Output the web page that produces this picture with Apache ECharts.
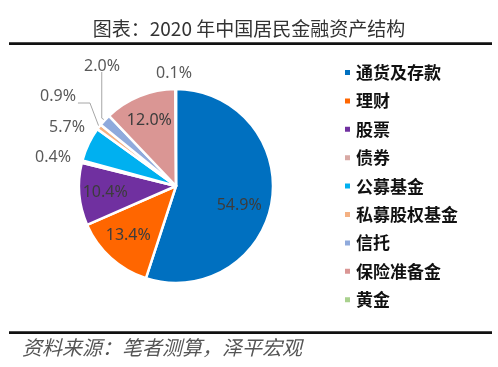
<!DOCTYPE html>
<html><head><meta charset="utf-8">
<script src="https://cdn.jsdelivr.net/npm/echarts@6/dist/echarts.min.js"></script>
<style>html,body{margin:0;padding:0;background:#fff}#c{width:498px;height:367px}</style>
</head><body><div id="c"></div>
<script>
const categories = ['通货及存款','理财','股票','债券','公募基金','私募股权基金','信托','保险准备金','黄金'];
const values = [54.9, 13.4, 10.4, 0.4, 5.7, 0.9, 2.0, 12.0, 0.1];
const colors = ['#0070C0','#FF6600','#7030A0','#D8A9A4','#00B0F0','#F4B183','#8FAADC','#DA9694','#A9D18E'];
const insideSet = ['通货及存款','理财','股票','保险准备金'];
const showLine = ['私募股权基金','信托'];
// label positions for the small outside labels (layout only)
const outsidePos = {'债券':[53,157],'公募基金':[67,127],'私募股权基金':[58,96],'信托':[102,66],'黄金':[174,73]};
const insideNudge = {'通货及存款':[-7,8],'理财':[0,-3]};
const CX = 176, CY = 186, R = 97;

const chart = echarts.init(document.getElementById('c'));
const data = categories.map((n,i)=>{
  const inside = insideSet.includes(n);
  return {
    name: n, value: values[i],
    itemStyle: {color: colors[i]},
    label: inside ? {position:'inner', color:'#3c3c3c', fontSize:16} : {position:'outside', color:'#595959', fontSize:16},
    labelLine: {show: showLine.includes(n), length: 10, length2: 10, lineStyle:{color:'#a6a6a6', width:1}}
  };
});
chart.setOption({
  animation:false,
  graphic:[
    {type:'text', x:249, y:29, style:{text:'图表：2020 年中国居民金融资产结构', font:'19px "Noto Sans CJK SC"', fill:'#333', align:'center', verticalAlign:'middle'}},
    {type:'rect', shape:{x:9,y:42.3,width:483,height:2.7}, style:{fill:'#111'}},
    {type:'rect', shape:{x:9,y:331.3,width:483,height:2.7}, style:{fill:'#111'}},
    {type:'text', x:22, y:347, style:{text:'资料来源：笔者测算，泽平宏观', font:'italic 20px "Noto Sans CJK SC"', fill:'#555', verticalAlign:'middle'}}
  ],
  legend:{
    orient:'vertical', left:343, top:64, itemWidth:7, itemHeight:7, itemGap:11.4, padding:0,
    icon:'rect',
    textStyle:{fontSize:17, fontWeight:'bold', color:'#111', fontFamily:'Noto Sans CJK SC'},
    data: categories
  },
  series:[{
    type:'pie', radius:[0,R], center:[CX,CY], startAngle:90, clockwise:true,
    itemStyle:{borderColor:'#fff', borderWidth:2.5},
    label:{formatter: p=>p.value.toFixed(1)+'%', fontFamily:'Noto Sans'},
    avoidLabelOverlap:false,
    labelLayout: function(params){
      const n = categories[params.dataIndex];
      if (outsidePos[n]) {
        const [px,py] = outsidePos[n];
        const res = {x: px, y: py, align:'center', verticalAlign:'middle'};
        const pts = params.labelLinePoints;
        if (showLine.includes(n) && pts && pts.length) {
          const a = pts[0];
          const w = params.labelRect.width, h = params.labelRect.height;
          if (n === '信托') {
            res.labelLinePoints = [[a[0]-3, py + h/2 - 2], [a[0]-3, a[1] - 2], a];
          } else {
            res.labelLinePoints = [[px + w/2 + 2, py + h/2 - 1], [px + w/2 + 14, py + h/2 - 1], a];
          }
        }
        return res;
      }
      const r = params.labelRect;
      const lx = r.x + r.width/2, ly = r.y + r.height/2;
      const k = 1.38;
      const nd = insideNudge[n] || [0,0];
      return {x: CX + (lx-CX)*k + nd[0], y: CY + (ly-CY)*k + nd[1], align:'center', verticalAlign:'middle'};
    },
    data: data
  }]
});
</script></body></html>
